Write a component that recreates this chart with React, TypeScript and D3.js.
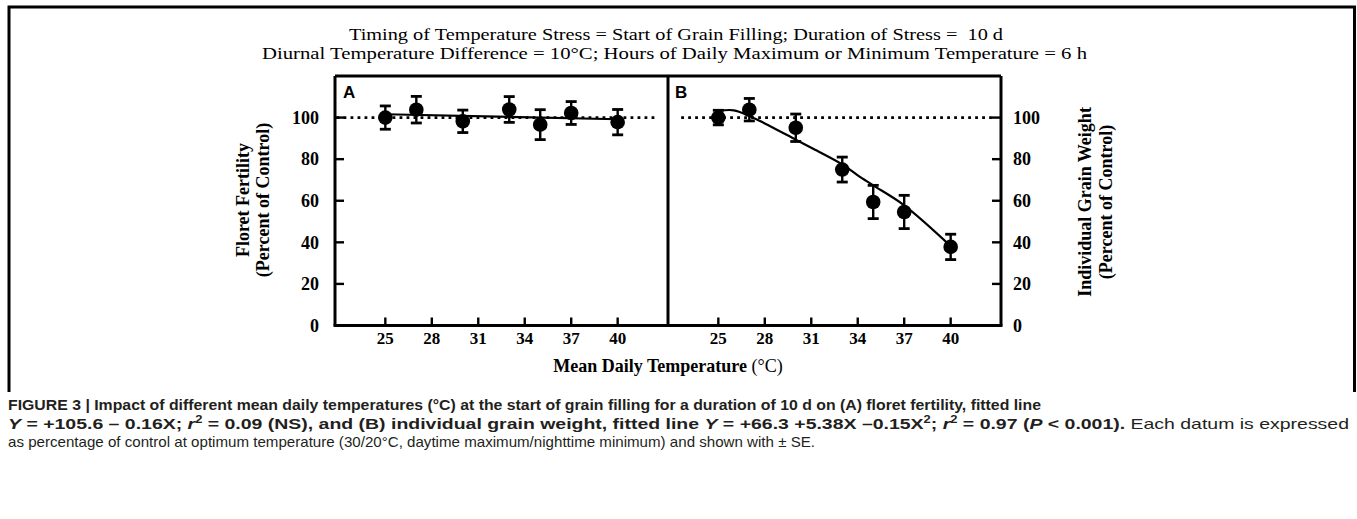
import React from 'react';
import * as d3 from 'd3';

// ---- data ----
const temps = [25, 27, 30, 33, 35, 37, 40];
const fertility = [100, 103.8, 98.2, 103.9, 96.6, 102.2, 97.8];
const fertilitySE = [5.6, 6.4, 5.4, 6.2, 7.2, 5.5, 6.1];
const grainWeight = [100, 103.8, 95.1, 75, 59.4, 54.6, 37.8];
const grainWeightSE = [3.5, 5.4, 6.6, 6, 8, 8, 6.1];

const fitATemps = [25, 40];
const fitAValues = [101.6, 99.2];
const fitBTemps = [25, 26, 27, 28, 30, 31, 33, 34, 35, 37, 40];
const fitBValues = [103.2, 103.5, 100.8, 97.2, 89.4, 85.5, 77.5, 72.2, 67.4, 57.8, 38.2];

const xTicks = [25, 28, 31, 34, 37, 40];
const yTicks = [0, 20, 40, 60, 80, 100];
const controlLevel = 100;

const titleLine1 = 'Timing of Temperature Stress = Start of Grain Filling; Duration of Stress =  10 d';
const titleLine2 = 'Diurnal Temperature Difference = 10°C; Hours of Daily Maximum or Minimum Temperature = 6 h';

const SERIF = '"Liberation Serif", "Times New Roman", serif';
const SANS = '"Liberation Sans", Arial, Helvetica, sans-serif';

type Pt = [number, number];

function Panel({ x, y, values, se, fitT, fitV, dotFrom, dotTo, curved }: any) {
  const line = d3
    .line<Pt>()
    .x((d) => x(d[0]))
    .y((d) => y(d[1]))
    .curve(curved ? d3.curveCatmullRom.alpha(0.5) : d3.curveLinear);
  const fitPts: Pt[] = fitT.map((t: number, i: number) => [t, fitV[i]]);
  return (
    <g>
      <line
        x1={x(dotFrom)}
        x2={x(dotTo)}
        y1={y(controlLevel)}
        y2={y(controlLevel)}
        stroke="#000"
        strokeWidth={2.8}
        strokeDasharray="2.8,4.2"
      />
      <path d={line(fitPts) || ''} fill="none" stroke="#000" strokeWidth={2.2} />
      {temps.map((t, i) => {
        const cx = x(t);
        const top = y(values[i] + se[i]);
        const bot = y(values[i] - se[i]);
        return (
          <g key={i}>
            <line x1={cx} x2={cx} y1={top} y2={bot} stroke="#000" strokeWidth={2.4} />
            <line x1={cx - 5.5} x2={cx + 5.5} y1={top} y2={top} stroke="#000" strokeWidth={2.8} />
            <line x1={cx - 5.5} x2={cx + 5.5} y1={bot} y2={bot} stroke="#000" strokeWidth={2.8} />
            <circle cx={cx} cy={y(values[i])} r={7.3} fill="#000" />
          </g>
        );
      })}
    </g>
  );
}

export default function App() {
  const W = 1357;
  const H = 519;
  const y = d3.scaleLinear().domain([0, 120]).range([325.5, 76]);
  const xA = d3.scaleLinear().domain([21.75, 43.25]).range([335, 668]);
  const xB = d3.scaleLinear().domain([21.75, 43.25]).range([668, 1001]);
  const left = xA.range()[0];
  const mid = xA.range()[1];
  const right = xB.range()[1];
  const top = y(120);
  const bottom = y(0);

  return (
    <svg
      width={W}
      height={H}
      style={{ position: 'absolute', left: 0, top: 0, background: '#fff' }}
    >
      {/* outer frame */}
      <path d={`M9,392 V7 H1354.5 V392`} fill="none" stroke="#000" strokeWidth={3} />

      {/* titles */}
      <text x={349} y={40} fontFamily={SERIF} fontSize={17} textLength={654} lengthAdjust="spacingAndGlyphs" style={{ whiteSpace: 'pre' }}>
        {titleLine1}
      </text>
      <text x={262} y={59} fontFamily={SERIF} fontSize={17} textLength={825} lengthAdjust="spacingAndGlyphs" style={{ whiteSpace: 'pre' }}>
        {titleLine2}
      </text>

      {/* panel data */}
      <Panel x={xA} y={y} values={fertility} se={fertilitySE} fitT={fitATemps} fitV={fitAValues} dotFrom={21.85} dotTo={42.6} curved={false} />
      <Panel x={xB} y={y} values={grainWeight} se={grainWeightSE} fitT={fitBTemps} fitV={fitBValues} dotFrom={22.6} dotTo={42.9} curved={true} />

      {/* panel frames */}
      <g stroke="#000" strokeWidth={3} fill="none">
        <line x1={left} x2={right} y1={top} y2={top} />
        <line x1={left - 1.5} x2={right + 1.5} y1={bottom} y2={bottom} />
        <line x1={left} x2={left} y1={top} y2={bottom} />
        <line x1={mid} x2={mid} y1={top} y2={bottom} />
        <line x1={right} x2={right} y1={top} y2={bottom} />
      </g>

      {/* x ticks */}
      {[xA, xB].map((x, k) => (
        <g key={k}>
          {xTicks.map((t) => (
            <g key={t}>
              <line x1={x(t)} x2={x(t)} y1={bottom} y2={bottom - 8} stroke="#000" strokeWidth={2.4} />
              <text x={x(t)} y={344} textAnchor="middle" fontFamily={SERIF} fontWeight="bold" fontSize={17}>
                {t}
              </text>
            </g>
          ))}
        </g>
      ))}

      {/* y ticks left (A) */}
      {yTicks.map((v) => (
        <g key={'a' + v}>
          {v > 0 && <line x1={left} x2={left + 9} y1={y(v)} y2={y(v)} stroke="#000" strokeWidth={2.4} />}
          <text x={319} y={y(v)} dy="0.35em" textAnchor="end" fontFamily={SERIF} fontWeight="bold" fontSize={18}>
            {v}
          </text>
        </g>
      ))}
      {/* y ticks right (B) */}
      {yTicks.map((v) => (
        <g key={'b' + v}>
          {v > 0 && <line x1={right} x2={right - 9} y1={y(v)} y2={y(v)} stroke="#000" strokeWidth={2.4} />}
          <text x={1013} y={y(v)} dy="0.35em" textAnchor="start" fontFamily={SERIF} fontWeight="bold" fontSize={18}>
            {v}
          </text>
        </g>
      ))}

      {/* panel letters */}
      <text x={343} y={98} fontFamily={SANS} fontWeight="bold" fontSize={17}>A</text>
      <text x={675} y={98} fontFamily={SANS} fontWeight="bold" fontSize={17}>B</text>

      {/* axis titles */}
      <g fontFamily={SERIF} fontWeight="bold" fontSize={18} textAnchor="middle">
        <text transform={`translate(249,200) rotate(-90)`}>Floret Fertility</text>
        <text transform={`translate(269,200) rotate(-90)`}>(Percent of Control)</text>
        <text transform={`translate(1091,202) rotate(-90)`}>Individual Grain Weight</text>
        <text transform={`translate(1112,202) rotate(-90)`}>(Percent of Control)</text>
      </g>
      <text x={668} y={372} textAnchor="middle" fontFamily={SERIF} fontSize={18}>
        <tspan fontWeight="bold">Mean Daily Temperature</tspan>
        <tspan> (°C)</tspan>
      </text>

      {/* caption */}
      <g fontFamily={SANS} fontSize={15} fill="#231f20">
        <text x={8} y={410} fontWeight="bold" textLength={1033} lengthAdjust="spacingAndGlyphs">
          FIGURE 3 | Impact of different mean daily temperatures (°C) at the start of grain filling for a duration of 10 d on (A) floret fertility, fitted line
        </text>
        <text x={8} y={429} textLength={1341} lengthAdjust="spacingAndGlyphs">
          <tspan fontWeight="bold" fontStyle="italic">Y</tspan>
          <tspan fontWeight="bold"> = +105.6 – 0.16X; </tspan>
          <tspan fontWeight="bold" fontStyle="italic">r</tspan>
          <tspan fontWeight="bold" fontSize={10} dy={-6}>2</tspan>
          <tspan fontWeight="bold" dy={6}> = 0.09 (NS), and (B) individual grain weight, fitted line </tspan>
          <tspan fontWeight="bold" fontStyle="italic">Y</tspan>
          <tspan fontWeight="bold"> = +66.3 +5.38X –0.15X</tspan>
          <tspan fontWeight="bold" fontSize={10} dy={-6}>2</tspan>
          <tspan fontWeight="bold" dy={6}>; </tspan>
          <tspan fontWeight="bold" fontStyle="italic">r</tspan>
          <tspan fontWeight="bold" fontSize={10} dy={-6}>2</tspan>
          <tspan fontWeight="bold" dy={6}> = 0.97 (</tspan>
          <tspan fontWeight="bold" fontStyle="italic">P</tspan>
          <tspan fontWeight="bold"> &lt; 0.001).</tspan>
          <tspan> Each datum is expressed</tspan>
        </text>
        <text x={8} y={447} textLength={807} lengthAdjust="spacingAndGlyphs">
          as percentage of control at optimum temperature (30/20°C, daytime maximum/nighttime minimum) and shown with ± SE.
        </text>
      </g>
    </svg>
  );
}
